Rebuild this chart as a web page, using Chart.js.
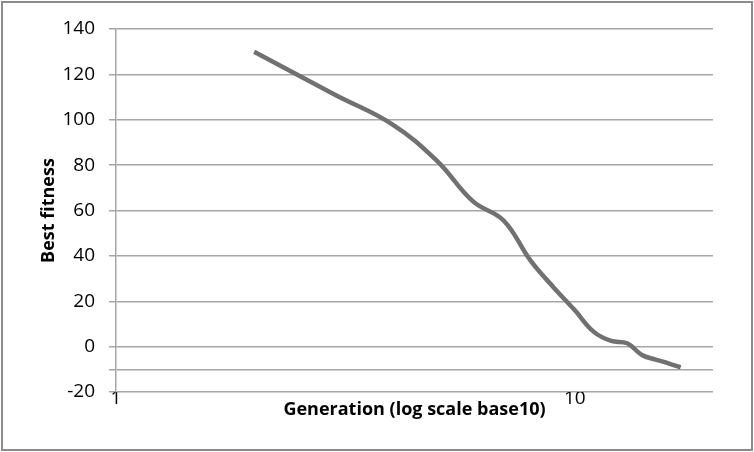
<!DOCTYPE html>
<html>
<head>
<meta charset="utf-8">
<script src="https://cdn.jsdelivr.net/npm/chart.js@4/dist/chart.umd.min.js"></script>
<style>
  html, body { margin: 0; padding: 0; background: #fff; }
  #wrap { position: relative; width: 754px; height: 452px; }
</style>
</head>
<body>
<div id="wrap"><canvas id="fitnessChart" width="754" height="452"></canvas></div>
<script>
// Best fitness per generation
const generations = [2, 3, 4, 5, 6, 7, 8, 9, 10, 11, 12, 13, 14, 15, 16, 17];
const bestFitness = [130, 111, 98, 82, 64, 55.5, 38, 26, 16, 6.5, 2.5, 1.5, -3.7, -5.7, -7.4, -9.2];
const yTickValues = [-20, -10, 0, 20, 40, 60, 80, 100, 120, 140];
const xTickValues = [1, 10];

const gridGrey = '#a6a6a6';

// Frame around the whole chart
const frameBorder = {
    id: 'frameBorder',
    afterDraw(chart) {
        const ctx = chart.ctx;
        ctx.save();
        ctx.strokeStyle = '#8c8c8c';
        ctx.lineWidth = 2;
        ctx.strokeRect(2, 2, chart.width - 4, chart.height - 4);
        ctx.restore();
    }
};

const ctx = document.getElementById('fitnessChart').getContext('2d');
new Chart(ctx, {
    type: 'line',
    data: {
        datasets: [{
            label: 'Best fitness',
            data: generations.map((g, i) => ({ x: g, y: bestFitness[i] })),
            borderColor: '#717171',
            borderWidth: 4.5,
            pointRadius: 0,
            tension: 0.4,
            fill: false
        }]
    },
    options: {
        responsive: false,
        animation: false,
        layout: {
            padding: { left: 0, right: 41, top: 29, bottom: 0 }
        },
        plugins: {
            legend: { display: false },
            tooltip: { enabled: false }
        },
        scales: {
            x: {
                type: 'logarithmic',
                min: 1,
                max: 20,
                afterBuildTicks: (scale) => {
                    scale.ticks = xTickValues.map(v => ({ value: v }));
                },
                afterFit: (scale) => { scale.height = 60; },
                grid: { display: false, drawTicks: false },
                border: { display: false },
                ticks: {
                    padding: -5,
                    color: '#000',
                    font: { family: 'Open Sans', size: 19 },
                    maxRotation: 0,
                    callback: (v) => String(v)
                },
                title: {
                    display: true,
                    text: 'Generation (log scale base10)',
                    color: '#000',
                    font: { family: 'Open Sans', size: 18, weight: 'bold' },
                    padding: { top: 0, bottom: 31 }
                }
            },
            y: {
                min: -20,
                max: 140,
                afterBuildTicks: (scale) => {
                    scale.ticks = yTickValues.map(v => ({ value: v }));
                },
                afterFit: (scale) => { scale.width = 116; },
                grid: {
                    color: gridGrey,
                    lineWidth: 1.5,
                    drawTicks: true,
                    tickLength: 7
                },
                border: { display: true, color: gridGrey, width: 1.5 },
                ticks: {
                    padding: 14,
                    color: '#000',
                    font: { family: 'Open Sans', size: 19 },
                    callback: (v) => (v === -10 ? '' : String(v))
                },
                title: {
                    display: true,
                    text: 'Best fitness',
                    color: '#000',
                    font: { family: 'Open Sans', size: 18, weight: 'bold' },
                    padding: { top: 38, bottom: 0 }
                }
            }
        }
    },
    plugins: [frameBorder]
});
</script>
</body>
</html>
